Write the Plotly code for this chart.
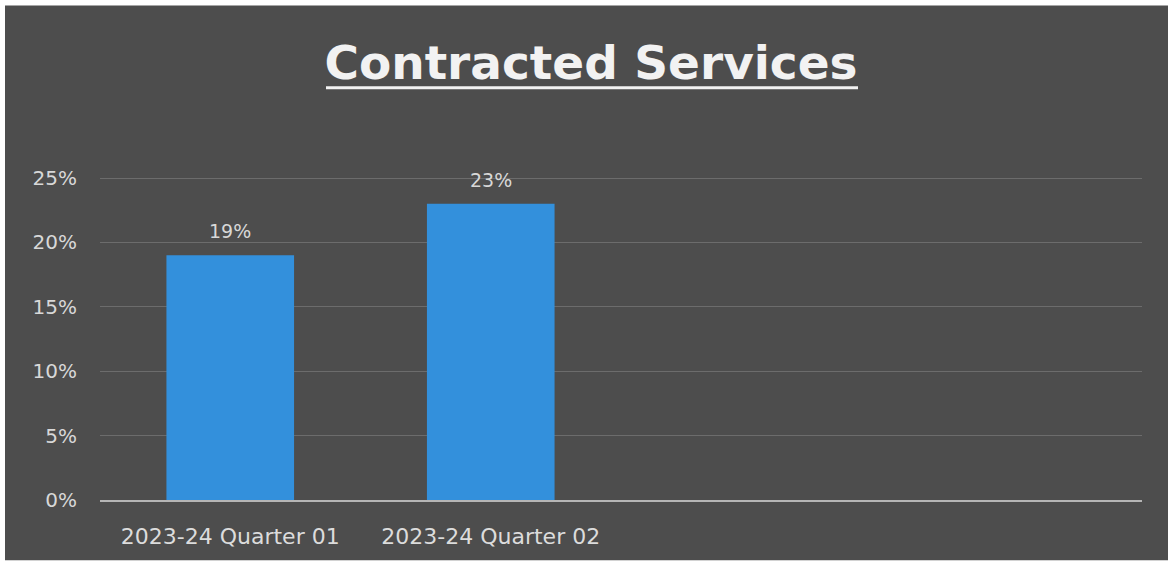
import plotly.graph_objects as go

# Quarterly share of contracted services
categories = ["2023-24 Quarter 01", "2023-24 Quarter 02", "", ""]
values = [0.19, 0.23]
y_ticks = [0, 0.05, 0.10, 0.15, 0.20, 0.25]
y_ticklabels = ["0%", "5%", "10%", "15%", "20%", "25%"]

positions = list(range(len(categories)))
FONT = "DejaVu Sans"

fig = go.Figure()
fig.add_trace(go.Bar(
    x=positions[:len(values)],
    y=values,
    width=0.49,
    marker=dict(color="#3390dc", line=dict(width=0)),
    hoverinfo="skip",
))

# value labels above the bars
for xp, v in zip(positions, values):
    fig.add_annotation(
        x=xp, y=v, xref="x", yref="y",
        text=f"{v:.0%}", showarrow=False,
        yanchor="middle", yshift=24,
        font=dict(family=FONT, size=19, color="#d8d8d8"),
    )

W, H = 1168, 562
ml, mr, mt, mb = 100, 26, 178, 62
pw, ph = W - ml - mr, H - mt - mb

def px_x(p):
    return (p - ml) / pw

def px_y(p):
    return (H - mb - p) / ph

shapes = [
    # dark panel inside a thin white frame
    dict(type="rect", xref="paper", yref="paper", layer="below",
         x0=px_x(5), x1=px_x(W + 2), y0=px_y(560), y1=px_y(7),
         fillcolor="#4d4d4d", line=dict(width=0)),
    # title underline
    dict(type="line", xref="paper", yref="paper",
         x0=px_x(326), x1=px_x(858), y0=px_y(89), y1=px_y(89),
         line=dict(color="#f2f2f2", width=3)),
]

fig.update_layout(
    width=W, height=H,
    margin=dict(l=ml, r=mr, t=mt - 1, b=mb, pad=0),
    paper_bgcolor="#ffffff",
    plot_bgcolor="rgba(0,0,0,0)",
    showlegend=False,
    shapes=shapes,
    title=dict(
        text="<b>Contracted Services</b>",
        x=591 / W, xref="container", xanchor="center",
        y=1 - 63 / H, yref="container", yanchor="middle",
        font=dict(family=FONT, size=47, color="#f2f2f2"),
    ),
    xaxis=dict(
        range=[-0.5, len(categories) - 0.5],
        tickmode="array", tickvals=positions, ticktext=categories,
        showgrid=False, zeroline=False,
        showline=True, linecolor="#b5b5b5", linewidth=2,
        ticks="", ticklabelstandoff=16,
        tickfont=dict(family=FONT, size=22, color="#dcdcdc"),
        fixedrange=True,
    ),
    yaxis=dict(
        range=[0, 0.2508],
        tickmode="array", tickvals=y_ticks, ticktext=y_ticklabels,
        showgrid=True, gridcolor="#6c6c6c", gridwidth=1,
        zeroline=False, showline=False, ticks="",
        ticklabelstandoff=22,
        tickfont=dict(family=FONT, size=20, color="#d8d8d8"),
        fixedrange=True,
    ),
)

fig.write_html("out.html")
